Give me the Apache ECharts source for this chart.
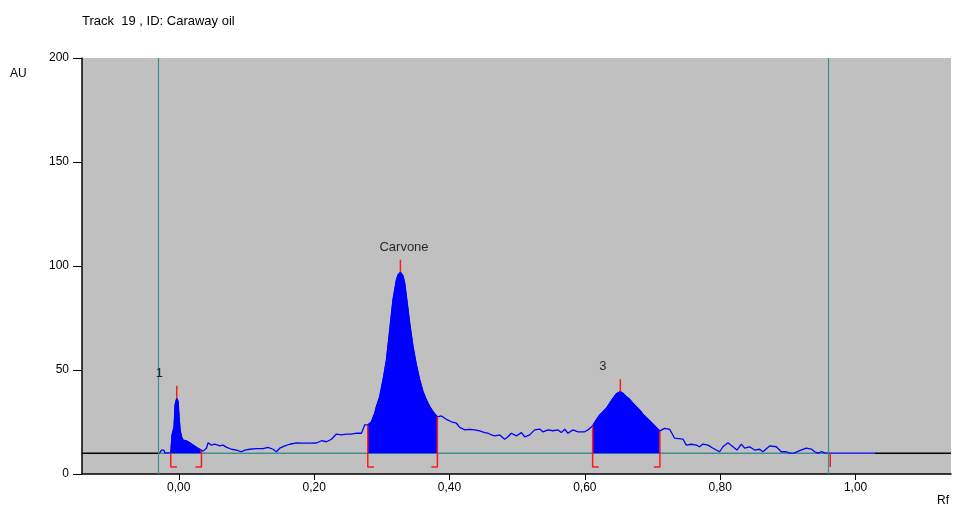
<!DOCTYPE html>
<html>
<head>
<meta charset="utf-8">
<script src="https://cdn.jsdelivr.net/npm/echarts@6/dist/echarts.min.js"></script>
<style>
html, body { margin: 0; padding: 0; background: #fff; }
#chart { width: 955px; height: 508px; }
</style>
</head>
<body>
<div id="chart"></div>
<script>
//////////// 데이터 ////////////
// 스캔 신호 (Rf, AU)
var rfValues = [
	-0.028, -0.0256, -0.0222, -0.0207, -0.0118, -0.0099, -0.0069, -0.0055, -0.003, -0.001,
	0.0004, 0.0019, 0.004, 0.0064, 0.0114, 0.0162, 0.0211, 0.0261, 0.031, 0.0335,
	0.0359, 0.0409, 0.0433, 0.0483, 0.0532, 0.0561, 0.0606, 0.0635, 0.0654, 0.0709,
	0.0778, 0.0852, 0.0926, 0.0975, 0.1049, 0.1148, 0.1245, 0.1319, 0.1393, 0.1443,
	0.1492, 0.1566, 0.164, 0.1739, 0.1836, 0.1935, 0.2034, 0.2108, 0.2182, 0.2256,
	0.2329, 0.2403, 0.2477, 0.2551, 0.2625, 0.2699, 0.2747, 0.2792, 0.2846, 0.2895,
	0.292, 0.2969, 0.3018, 0.3068, 0.3117, 0.3165, 0.3216, 0.3239, 0.3275, 0.3313,
	0.3338, 0.3363, 0.3412, 0.3461, 0.3511, 0.356, 0.3609, 0.3659, 0.3708, 0.3756,
	0.3821, 0.388, 0.3954, 0.4028, 0.4102, 0.4151, 0.4225, 0.4298, 0.4372, 0.4446,
	0.452, 0.4569, 0.4619, 0.4668, 0.4742, 0.4815, 0.4864, 0.4914, 0.4988, 0.5062,
	0.5111, 0.5185, 0.5258, 0.5332, 0.5381, 0.5455, 0.5529, 0.5603, 0.5653, 0.5702,
	0.575, 0.5824, 0.5898, 0.5997, 0.6046, 0.6115, 0.617, 0.6219, 0.6268, 0.6318,
	0.6366, 0.6415, 0.6465, 0.6524, 0.6563, 0.6613, 0.6662, 0.6711, 0.676, 0.6809,
	0.6858, 0.6908, 0.6957, 0.7006, 0.7056, 0.7109, 0.7179, 0.7253, 0.7326, 0.7449,
	0.7499, 0.7573, 0.7647, 0.7696, 0.7745, 0.7819, 0.7893, 0.7991, 0.8041, 0.8115,
	0.8188, 0.8247, 0.8312, 0.8361, 0.8434, 0.8508, 0.8582, 0.8631, 0.873, 0.8829,
	0.8903, 0.8977, 0.9025, 0.9099, 0.9173, 0.9272, 0.9346, 0.9395, 0.9444, 0.9494,
	0.9542, 0.9626, 1.0286
];
var auValues = [
	10.2, 11.5, 11.5, 10.2, 10.2, 18.8, 22.8, 33.2, 36.4, 34.8,
	27.6, 21.2, 17.9, 16.3, 15.9, 15.0, 13.9, 12.8, 11.9, 11.2,
	11.0, 12.4, 15.0, 13.9, 14.4, 14.4, 13.5, 14.3, 13.9, 12.8,
	11.9, 11.5, 10.7, 11.5, 11.9, 12.2, 12.2, 12.8, 11.9, 10.7,
	12.4, 13.5, 14.3, 15.0, 14.8, 14.8, 14.9, 16.0, 15.5, 16.7,
	19.2, 18.8, 19.2, 19.2, 19.6, 19.6, 23.6, 23.6, 25.1, 29.2,
	32.4, 37.2, 45.2, 54.8, 69.2, 83.7, 93.3, 95.7, 97.0, 95.2,
	91.7, 85.3, 72.4, 61.2, 52.4, 45.2, 39.6, 35.6, 32.4, 30.0,
	27.5, 27.9, 26.3, 25.1, 24.4, 22.4, 21.2, 21.5, 21.2, 20.7,
	19.9, 19.6, 18.8, 18.3, 18.8, 16.7, 17.9, 19.6, 18.3, 19.9,
	17.9, 18.8, 21.2, 21.6, 20.3, 21.2, 20.8, 21.2, 19.9, 21.5,
	19.6, 21.2, 20.3, 20.3, 21.2, 23.2, 26.0, 28.4, 30.0, 31.6,
	34.0, 36.4, 38.5, 39.6, 38.8, 37.2, 35.9, 34.0, 32.4, 30.8,
	28.8, 27.2, 25.6, 24.0, 22.4, 20.7, 21.9, 21.5, 17.2, 16.8,
	13.9, 14.3, 13.9, 13.1, 14.4, 13.9, 12.4, 10.7, 13.1, 15.0,
	13.1, 11.5, 14.4, 12.4, 13.1, 11.5, 11.9, 10.7, 13.5, 13.1,
	10.7, 10.7, 10.0, 10.2, 11.2, 12.4, 12.0, 10.7, 10.0, 10.7,
	10.2, 10.0, 10.0
];

// 피크 (이름, 적분 시작/끝 Rf)
var peakNames = ['1', 'Carvone', '3'];
var peakStart = [-0.0118, 0.2792, 0.6115];
var peakEnd = [0.0335, 0.3821, 0.7109];

// 기준선, 트랙 범위
var baselineAu = 10;
var trackStart = -0.028;
var trackEnd = 0.9626;

// 축 눈금
var rfTicks = [0, 0.2, 0.4, 0.6, 0.8, 1.0];
var auTicks = [0, 50, 100, 150, 200];

//////////// 차트 ////////////
var FONT = 'Liberation Sans';
var BLUE = '#0000ff';
var TEAL = '#3f8f8f';
var RED = '#ff1a1a';
var X_MIN = -0.143, X_MAX = 1.141;
var BRACKET_LOW = 3.4, BRACKET_W = 0.009, MARK_H = 6;

var signal = rfValues.map(function(rf, i) { return [rf, auValues[i]]; });

function auAt(rf) {
	for (var i = 0; i < rfValues.length; i++) {
		if (Math.abs(rfValues[i] - rf) < 1e-6) return auValues[i];
	}
	return baselineAu;
}

function redLine(data) {
	return {
		type: 'line', data: data, symbol: 'none', silent: true, z: 6,
		lineStyle: {color: RED, width: 1.5}
	};
}

var series = [];

// 기준선
series.push({
	type: 'line', symbol: 'none', silent: true, z: 2,
	data: [[X_MIN, baselineAu], [trackStart, baselineAu]],
	lineStyle: {color: '#000', width: 1.5}
});
series.push({
	type: 'line', symbol: 'none', silent: true, z: 2,
	data: [[rfValues[rfValues.length - 1], baselineAu], [X_MAX, baselineAu]],
	lineStyle: {color: '#000', width: 1.5}
});
series.push({
	type: 'line', symbol: 'none', silent: true, z: 2,
	data: [[trackStart, baselineAu], [trackEnd, baselineAu]],
	lineStyle: {color: TEAL, width: 1.5},
	markLine: {
		silent: true, symbol: 'none', label: {show: false},
		lineStyle: {color: TEAL, width: 1.2, type: 'solid'},
		data: [{xAxis: trackStart}, {xAxis: trackEnd}]
	}
});

// 신호
series.push({
	type: 'line', symbol: 'none', silent: true, z: 4,
	data: signal,
	lineStyle: {color: BLUE, width: 1.3}
});

// 피크 면적, 마커
var labelData = [];
peakNames.forEach(function(name, k) {
	var part = signal.filter(function(p) { return p[0] >= peakStart[k] - 1e-6 && p[0] <= peakEnd[k] + 1e-6; });
	series.push({
		type: 'line', symbol: 'none', silent: true, z: 3,
		data: part,
		lineStyle: {color: BLUE, width: 1},
		areaStyle: {color: BLUE, opacity: 1, origin: baselineAu}
	});
	var top = part.reduce(function(a, b) { return b[1] > a[1] ? b : a; });
	series.push(redLine([[top[0], top[1]], [top[0], top[1] + MARK_H]]));
	series.push(redLine([[peakStart[k], auAt(peakStart[k])], [peakStart[k], BRACKET_LOW], [peakStart[k] + BRACKET_W, BRACKET_LOW]]));
	series.push(redLine([[peakEnd[k], auAt(peakEnd[k])], [peakEnd[k], BRACKET_LOW], [peakEnd[k] - BRACKET_W, BRACKET_LOW]]));
	labelData.push({name: name, value: top});
});
// 트랙 끝 마커
series.push(redLine([[trackEnd, baselineAu], [trackEnd, BRACKET_LOW]]));

series.push({
	type: 'scatter', symbolSize: 0, silent: true, z: 7,
	data: labelData,
	label: {
		show: true, formatter: '{b}', position: [0, 0], offset: [-21, -25],
		align: 'left', verticalAlign: 'middle',
		fontFamily: FONT, fontSize: 13, color: '#000'
	}
});

var chart = echarts.init(document.getElementById('chart'));
chart.setOption({
	animation: false,
	backgroundColor: '#fff',
	title: {
		text: 'Track  19 , ID: Caraway oil',
		left: 77, top: 10,
		textStyle: {fontFamily: FONT, fontSize: 13, fontWeight: 'normal', color: '#000'}
	},
	grid: {
		left: 82, right: 4, top: 58, bottom: 34,
		show: true, backgroundColor: '#c0c0c0', borderWidth: 0
	},
	xAxis: {
		type: 'value', min: X_MIN, max: X_MAX,
		axisLine: {show: true, onZero: false, lineStyle: {color: '#000', width: 1.5}},
		axisTick: {show: true, length: 6, customValues: rfTicks, lineStyle: {color: '#000'}},
		axisLabel: {
			customValues: rfTicks, margin: 8,
			fontFamily: FONT, fontSize: 12, color: '#000',
			formatter: function(v) { return v.toFixed(2).replace('.', ','); }
		},
		splitLine: {show: false}
	},
	yAxis: {
		type: 'value', min: 0, max: 200,
		axisLine: {show: true, onZero: false, lineStyle: {color: '#000', width: 1.5}},
		axisTick: {show: true, length: 9, customValues: auTicks, lineStyle: {color: '#000'}},
		axisLabel: {customValues: auTicks, margin: 13, fontFamily: FONT, fontSize: 12, color: '#000'},
		splitLine: {show: false}
	},
	graphic: [
		{type: 'text', left: 10, top: 68, style: {text: 'AU', font: '12px "Liberation Sans"', fill: '#000'}},
		{type: 'text', left: 937, top: 495, style: {text: 'Rf', font: '12px "Liberation Sans"', fill: '#000'}}
	],
	series: series
});
</script>
</body>
</html>
